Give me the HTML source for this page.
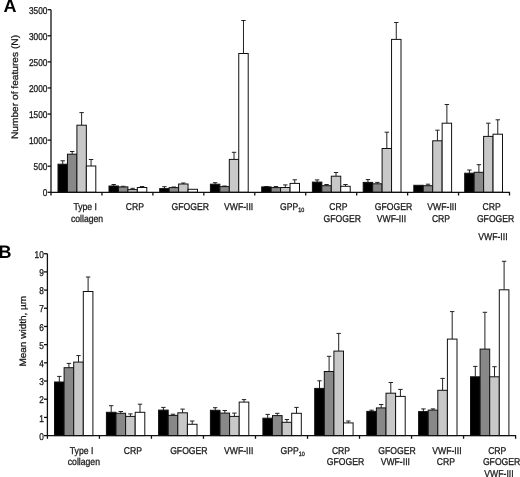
<!DOCTYPE html>
<html><head><meta charset="utf-8"><style>
html,body{margin:0;padding:0;background:#fff;}
body{width:520px;height:477px;overflow:hidden;}
svg{display:block;filter:grayscale(100%);text-rendering:geometricPrecision;}
.t{font-family:"Liberation Sans", sans-serif;font-size:9.9px;fill:#1a1a1a;stroke:#1a1a1a;stroke-width:0.3px;}
.s{font-size:6.2px;}
.tk{font-family:"Liberation Sans", sans-serif;font-size:9.9px;fill:#1a1a1a;stroke:#1a1a1a;stroke-width:0.3px;}
.ti{font-family:"Liberation Sans", sans-serif;font-size:10.2px;fill:#1a1a1a;stroke:#1a1a1a;stroke-width:0.3px;}
.p{font-family:"Liberation Sans", sans-serif;font-size:18px;font-weight:bold;fill:#000;}
.a{stroke:#111;stroke-width:1.3;fill:none;}
.b{stroke:#111;stroke-width:1;}
.e{stroke:#222;stroke-width:1;}
</style></head><body>
<svg width="520" height="477" viewBox="0 0 520 477">
<line x1="62.73" y1="164.20" x2="62.73" y2="160.80" class="e"/>
<line x1="60.52" y1="160.80" x2="64.92" y2="160.80" class="e"/>
<rect x="58.00" y="164.20" width="9.45" height="28.10" fill="#000000" class="b"/>
<line x1="72.17" y1="154.20" x2="72.17" y2="151.50" class="e"/>
<line x1="69.97" y1="151.50" x2="74.38" y2="151.50" class="e"/>
<rect x="67.45" y="154.20" width="9.45" height="38.10" fill="#888888" class="b"/>
<line x1="81.62" y1="125.20" x2="81.62" y2="112.60" class="e"/>
<line x1="79.42" y1="112.60" x2="83.83" y2="112.60" class="e"/>
<rect x="76.90" y="125.20" width="9.45" height="67.10" fill="#c8c8c8" class="b"/>
<line x1="91.07" y1="166.00" x2="91.07" y2="159.50" class="e"/>
<line x1="88.87" y1="159.50" x2="93.27" y2="159.50" class="e"/>
<rect x="86.35" y="166.00" width="9.45" height="26.30" fill="#ffffff" class="b"/>
<line x1="113.72" y1="186.00" x2="113.72" y2="184.50" class="e"/>
<line x1="111.52" y1="184.50" x2="115.92" y2="184.50" class="e"/>
<rect x="109.00" y="186.00" width="9.45" height="6.30" fill="#000000" class="b"/>
<line x1="123.17" y1="186.90" x2="123.17" y2="186.30" class="e"/>
<line x1="120.97" y1="186.30" x2="125.38" y2="186.30" class="e"/>
<rect x="118.45" y="186.90" width="9.45" height="5.40" fill="#888888" class="b"/>
<line x1="132.62" y1="189.60" x2="132.62" y2="188.30" class="e"/>
<line x1="130.43" y1="188.30" x2="134.82" y2="188.30" class="e"/>
<rect x="127.90" y="189.60" width="9.45" height="2.70" fill="#c8c8c8" class="b"/>
<line x1="142.07" y1="187.50" x2="142.07" y2="186.50" class="e"/>
<line x1="139.88" y1="186.50" x2="144.27" y2="186.50" class="e"/>
<rect x="137.35" y="187.50" width="9.45" height="4.80" fill="#ffffff" class="b"/>
<line x1="164.43" y1="188.60" x2="164.43" y2="186.70" class="e"/>
<line x1="162.23" y1="186.70" x2="166.62" y2="186.70" class="e"/>
<rect x="159.70" y="188.60" width="9.45" height="3.70" fill="#000000" class="b"/>
<line x1="173.88" y1="187.60" x2="173.88" y2="187.00" class="e"/>
<line x1="171.68" y1="187.00" x2="176.07" y2="187.00" class="e"/>
<rect x="169.15" y="187.60" width="9.45" height="4.70" fill="#888888" class="b"/>
<line x1="183.33" y1="184.00" x2="183.33" y2="183.00" class="e"/>
<line x1="181.13" y1="183.00" x2="185.53" y2="183.00" class="e"/>
<rect x="178.60" y="184.00" width="9.45" height="8.30" fill="#c8c8c8" class="b"/>
<rect x="188.05" y="189.30" width="9.45" height="3.00" fill="#ffffff" class="b"/>
<line x1="215.12" y1="184.20" x2="215.12" y2="182.70" class="e"/>
<line x1="212.93" y1="182.70" x2="217.32" y2="182.70" class="e"/>
<rect x="210.40" y="184.20" width="9.45" height="8.10" fill="#000000" class="b"/>
<line x1="224.57" y1="186.60" x2="224.57" y2="186.00" class="e"/>
<line x1="222.38" y1="186.00" x2="226.77" y2="186.00" class="e"/>
<rect x="219.85" y="186.60" width="9.45" height="5.70" fill="#888888" class="b"/>
<line x1="234.03" y1="159.40" x2="234.03" y2="152.30" class="e"/>
<line x1="231.83" y1="152.30" x2="236.22" y2="152.30" class="e"/>
<rect x="229.30" y="159.40" width="9.45" height="32.90" fill="#c8c8c8" class="b"/>
<line x1="243.47" y1="53.50" x2="243.47" y2="20.50" class="e"/>
<line x1="241.28" y1="20.50" x2="245.67" y2="20.50" class="e"/>
<rect x="238.75" y="53.50" width="9.45" height="138.80" fill="#ffffff" class="b"/>
<line x1="266.43" y1="186.90" x2="266.43" y2="186.50" class="e"/>
<line x1="264.23" y1="186.50" x2="268.62" y2="186.50" class="e"/>
<rect x="261.70" y="186.90" width="9.45" height="5.40" fill="#000000" class="b"/>
<line x1="275.88" y1="187.60" x2="275.88" y2="186.50" class="e"/>
<line x1="273.68" y1="186.50" x2="278.07" y2="186.50" class="e"/>
<rect x="271.15" y="187.60" width="9.45" height="4.70" fill="#888888" class="b"/>
<line x1="285.32" y1="187.50" x2="285.32" y2="184.90" class="e"/>
<line x1="283.12" y1="184.90" x2="287.52" y2="184.90" class="e"/>
<rect x="280.60" y="187.50" width="9.45" height="4.80" fill="#c8c8c8" class="b"/>
<line x1="294.78" y1="183.40" x2="294.78" y2="179.80" class="e"/>
<line x1="292.58" y1="179.80" x2="296.98" y2="179.80" class="e"/>
<rect x="290.05" y="183.40" width="9.45" height="8.90" fill="#ffffff" class="b"/>
<line x1="317.13" y1="182.10" x2="317.13" y2="179.90" class="e"/>
<line x1="314.93" y1="179.90" x2="319.33" y2="179.90" class="e"/>
<rect x="312.40" y="182.10" width="9.45" height="10.20" fill="#000000" class="b"/>
<line x1="326.58" y1="185.70" x2="326.58" y2="184.50" class="e"/>
<line x1="324.38" y1="184.50" x2="328.78" y2="184.50" class="e"/>
<rect x="321.85" y="185.70" width="9.45" height="6.60" fill="#888888" class="b"/>
<line x1="336.03" y1="176.20" x2="336.03" y2="172.50" class="e"/>
<line x1="333.83" y1="172.50" x2="338.23" y2="172.50" class="e"/>
<rect x="331.30" y="176.20" width="9.45" height="16.10" fill="#c8c8c8" class="b"/>
<line x1="345.48" y1="186.30" x2="345.48" y2="184.50" class="e"/>
<line x1="343.28" y1="184.50" x2="347.68" y2="184.50" class="e"/>
<rect x="340.75" y="186.30" width="9.45" height="6.00" fill="#ffffff" class="b"/>
<line x1="367.93" y1="182.40" x2="367.93" y2="179.60" class="e"/>
<line x1="365.73" y1="179.60" x2="370.12" y2="179.60" class="e"/>
<rect x="363.20" y="182.40" width="9.45" height="9.90" fill="#000000" class="b"/>
<line x1="377.38" y1="183.80" x2="377.38" y2="182.40" class="e"/>
<line x1="375.18" y1="182.40" x2="379.57" y2="182.40" class="e"/>
<rect x="372.65" y="183.80" width="9.45" height="8.50" fill="#888888" class="b"/>
<line x1="386.82" y1="148.50" x2="386.82" y2="132.20" class="e"/>
<line x1="384.62" y1="132.20" x2="389.02" y2="132.20" class="e"/>
<rect x="382.10" y="148.50" width="9.45" height="43.80" fill="#c8c8c8" class="b"/>
<line x1="396.28" y1="39.40" x2="396.28" y2="22.50" class="e"/>
<line x1="394.08" y1="22.50" x2="398.48" y2="22.50" class="e"/>
<rect x="391.55" y="39.40" width="9.45" height="152.90" fill="#ffffff" class="b"/>
<rect x="413.80" y="185.30" width="9.45" height="7.00" fill="#000000" class="b"/>
<line x1="427.98" y1="185.70" x2="427.98" y2="184.20" class="e"/>
<line x1="425.78" y1="184.20" x2="430.18" y2="184.20" class="e"/>
<rect x="423.25" y="185.70" width="9.45" height="6.60" fill="#888888" class="b"/>
<line x1="437.43" y1="140.80" x2="437.43" y2="130.20" class="e"/>
<line x1="435.23" y1="130.20" x2="439.62" y2="130.20" class="e"/>
<rect x="432.70" y="140.80" width="9.45" height="51.50" fill="#c8c8c8" class="b"/>
<line x1="446.88" y1="123.20" x2="446.88" y2="104.50" class="e"/>
<line x1="444.68" y1="104.50" x2="449.08" y2="104.50" class="e"/>
<rect x="442.15" y="123.20" width="9.45" height="69.10" fill="#ffffff" class="b"/>
<line x1="469.43" y1="173.20" x2="469.43" y2="170.00" class="e"/>
<line x1="467.23" y1="170.00" x2="471.62" y2="170.00" class="e"/>
<rect x="464.70" y="173.20" width="9.45" height="19.10" fill="#000000" class="b"/>
<line x1="478.88" y1="172.30" x2="478.88" y2="164.70" class="e"/>
<line x1="476.68" y1="164.70" x2="481.07" y2="164.70" class="e"/>
<rect x="474.15" y="172.30" width="9.45" height="20.00" fill="#888888" class="b"/>
<line x1="488.32" y1="136.40" x2="488.32" y2="123.20" class="e"/>
<line x1="486.12" y1="123.20" x2="490.52" y2="123.20" class="e"/>
<rect x="483.60" y="136.40" width="9.45" height="55.90" fill="#c8c8c8" class="b"/>
<line x1="497.78" y1="134.20" x2="497.78" y2="119.80" class="e"/>
<line x1="495.58" y1="119.80" x2="499.98" y2="119.80" class="e"/>
<rect x="493.05" y="134.20" width="9.45" height="58.10" fill="#ffffff" class="b"/>
<line x1="51.0" y1="9.70" x2="51.0" y2="195.50" class="a"/>
<line x1="50.5" y1="192.3" x2="510.0" y2="192.3" class="a"/>
<line x1="101.94" y1="192.3" x2="101.94" y2="195.50" class="a"/>
<line x1="152.89" y1="192.3" x2="152.89" y2="195.50" class="a"/>
<line x1="203.83" y1="192.3" x2="203.83" y2="195.50" class="a"/>
<line x1="254.78" y1="192.3" x2="254.78" y2="195.50" class="a"/>
<line x1="305.72" y1="192.3" x2="305.72" y2="195.50" class="a"/>
<line x1="356.67" y1="192.3" x2="356.67" y2="195.50" class="a"/>
<line x1="407.61" y1="192.3" x2="407.61" y2="195.50" class="a"/>
<line x1="458.56" y1="192.3" x2="458.56" y2="195.50" class="a"/>
<line x1="509.50" y1="192.3" x2="509.50" y2="195.50" class="a"/>
<line x1="47.60" y1="192.30" x2="51.0" y2="192.30" class="a"/>
<text transform="translate(47.40,196.40) scale(0.84,1)" class="tk" text-anchor="end">0</text>
<line x1="47.60" y1="166.21" x2="51.0" y2="166.21" class="a"/>
<text transform="translate(47.40,170.31) scale(0.84,1)" class="tk" text-anchor="end">500</text>
<line x1="47.60" y1="140.13" x2="51.0" y2="140.13" class="a"/>
<text transform="translate(47.40,144.23) scale(0.84,1)" class="tk" text-anchor="end">1000</text>
<line x1="47.60" y1="114.04" x2="51.0" y2="114.04" class="a"/>
<text transform="translate(47.40,118.14) scale(0.84,1)" class="tk" text-anchor="end">1500</text>
<line x1="47.60" y1="87.96" x2="51.0" y2="87.96" class="a"/>
<text transform="translate(47.40,92.06) scale(0.84,1)" class="tk" text-anchor="end">2000</text>
<line x1="47.60" y1="61.87" x2="51.0" y2="61.87" class="a"/>
<text transform="translate(47.40,65.97) scale(0.84,1)" class="tk" text-anchor="end">2500</text>
<line x1="47.60" y1="35.79" x2="51.0" y2="35.79" class="a"/>
<text transform="translate(47.40,39.89) scale(0.84,1)" class="tk" text-anchor="end">3000</text>
<line x1="47.60" y1="9.70" x2="51.0" y2="9.70" class="a"/>
<text transform="translate(47.40,13.80) scale(0.84,1)" class="tk" text-anchor="end">3500</text>
<line x1="59.30" y1="382.00" x2="59.30" y2="376.40" class="e"/>
<line x1="57.10" y1="376.40" x2="61.50" y2="376.40" class="e"/>
<rect x="54.50" y="382.00" width="9.60" height="53.60" fill="#000000" class="b"/>
<line x1="68.90" y1="367.70" x2="68.90" y2="363.40" class="e"/>
<line x1="66.70" y1="363.40" x2="71.10" y2="363.40" class="e"/>
<rect x="64.10" y="367.70" width="9.60" height="67.90" fill="#888888" class="b"/>
<line x1="78.50" y1="362.10" x2="78.50" y2="355.60" class="e"/>
<line x1="76.30" y1="355.60" x2="80.70" y2="355.60" class="e"/>
<rect x="73.70" y="362.10" width="9.60" height="73.50" fill="#c8c8c8" class="b"/>
<line x1="88.10" y1="291.50" x2="88.10" y2="277.00" class="e"/>
<line x1="85.90" y1="277.00" x2="90.30" y2="277.00" class="e"/>
<rect x="83.30" y="291.50" width="9.60" height="144.10" fill="#ffffff" class="b"/>
<line x1="111.20" y1="412.30" x2="111.20" y2="405.70" class="e"/>
<line x1="109.00" y1="405.70" x2="113.40" y2="405.70" class="e"/>
<rect x="106.40" y="412.30" width="9.60" height="23.30" fill="#000000" class="b"/>
<line x1="120.80" y1="413.30" x2="120.80" y2="411.50" class="e"/>
<line x1="118.60" y1="411.50" x2="123.00" y2="411.50" class="e"/>
<rect x="116.00" y="413.30" width="9.60" height="22.30" fill="#888888" class="b"/>
<line x1="130.40" y1="416.40" x2="130.40" y2="413.90" class="e"/>
<line x1="128.20" y1="413.90" x2="132.60" y2="413.90" class="e"/>
<rect x="125.60" y="416.40" width="9.60" height="19.20" fill="#c8c8c8" class="b"/>
<line x1="140.00" y1="412.30" x2="140.00" y2="404.20" class="e"/>
<line x1="137.80" y1="404.20" x2="142.20" y2="404.20" class="e"/>
<rect x="135.20" y="412.30" width="9.60" height="23.30" fill="#ffffff" class="b"/>
<line x1="163.40" y1="410.10" x2="163.40" y2="407.40" class="e"/>
<line x1="161.20" y1="407.40" x2="165.60" y2="407.40" class="e"/>
<rect x="158.60" y="410.10" width="9.60" height="25.50" fill="#000000" class="b"/>
<line x1="173.00" y1="415.40" x2="173.00" y2="414.20" class="e"/>
<line x1="170.80" y1="414.20" x2="175.20" y2="414.20" class="e"/>
<rect x="168.20" y="415.40" width="9.60" height="20.20" fill="#888888" class="b"/>
<line x1="182.60" y1="412.80" x2="182.60" y2="409.10" class="e"/>
<line x1="180.40" y1="409.10" x2="184.80" y2="409.10" class="e"/>
<rect x="177.80" y="412.80" width="9.60" height="22.80" fill="#c8c8c8" class="b"/>
<line x1="192.20" y1="424.30" x2="192.20" y2="421.00" class="e"/>
<line x1="190.00" y1="421.00" x2="194.40" y2="421.00" class="e"/>
<rect x="187.40" y="424.30" width="9.60" height="11.30" fill="#ffffff" class="b"/>
<line x1="215.20" y1="410.30" x2="215.20" y2="407.70" class="e"/>
<line x1="213.00" y1="407.70" x2="217.40" y2="407.70" class="e"/>
<rect x="210.40" y="410.30" width="9.60" height="25.30" fill="#000000" class="b"/>
<line x1="224.80" y1="413.10" x2="224.80" y2="410.50" class="e"/>
<line x1="222.60" y1="410.50" x2="227.00" y2="410.50" class="e"/>
<rect x="220.00" y="413.10" width="9.60" height="22.50" fill="#888888" class="b"/>
<line x1="234.40" y1="416.40" x2="234.40" y2="413.10" class="e"/>
<line x1="232.20" y1="413.10" x2="236.60" y2="413.10" class="e"/>
<rect x="229.60" y="416.40" width="9.60" height="19.20" fill="#c8c8c8" class="b"/>
<line x1="244.00" y1="402.10" x2="244.00" y2="399.60" class="e"/>
<line x1="241.80" y1="399.60" x2="246.20" y2="399.60" class="e"/>
<rect x="239.20" y="402.10" width="9.60" height="33.50" fill="#ffffff" class="b"/>
<line x1="267.70" y1="418.20" x2="267.70" y2="414.40" class="e"/>
<line x1="265.50" y1="414.40" x2="269.90" y2="414.40" class="e"/>
<rect x="262.90" y="418.20" width="9.60" height="17.40" fill="#000000" class="b"/>
<line x1="277.30" y1="415.60" x2="277.30" y2="413.30" class="e"/>
<line x1="275.10" y1="413.30" x2="279.50" y2="413.30" class="e"/>
<rect x="272.50" y="415.60" width="9.60" height="20.00" fill="#888888" class="b"/>
<line x1="286.90" y1="422.30" x2="286.90" y2="419.50" class="e"/>
<line x1="284.70" y1="419.50" x2="289.10" y2="419.50" class="e"/>
<rect x="282.10" y="422.30" width="9.60" height="13.30" fill="#c8c8c8" class="b"/>
<line x1="296.50" y1="413.30" x2="296.50" y2="407.40" class="e"/>
<line x1="294.30" y1="407.40" x2="298.70" y2="407.40" class="e"/>
<rect x="291.70" y="413.30" width="9.60" height="22.30" fill="#ffffff" class="b"/>
<line x1="319.50" y1="388.40" x2="319.50" y2="380.80" class="e"/>
<line x1="317.30" y1="380.80" x2="321.70" y2="380.80" class="e"/>
<rect x="314.70" y="388.40" width="9.60" height="47.20" fill="#000000" class="b"/>
<line x1="329.10" y1="371.50" x2="329.10" y2="356.30" class="e"/>
<line x1="326.90" y1="356.30" x2="331.30" y2="356.30" class="e"/>
<rect x="324.30" y="371.50" width="9.60" height="64.10" fill="#888888" class="b"/>
<line x1="338.70" y1="351.10" x2="338.70" y2="333.40" class="e"/>
<line x1="336.50" y1="333.40" x2="340.90" y2="333.40" class="e"/>
<rect x="333.90" y="351.10" width="9.60" height="84.50" fill="#c8c8c8" class="b"/>
<line x1="348.30" y1="422.90" x2="348.30" y2="421.00" class="e"/>
<line x1="346.10" y1="421.00" x2="350.50" y2="421.00" class="e"/>
<rect x="343.50" y="422.90" width="9.60" height="12.70" fill="#ffffff" class="b"/>
<line x1="371.60" y1="411.40" x2="371.60" y2="410.20" class="e"/>
<line x1="369.40" y1="410.20" x2="373.80" y2="410.20" class="e"/>
<rect x="366.80" y="411.40" width="9.60" height="24.20" fill="#000000" class="b"/>
<line x1="381.20" y1="407.90" x2="381.20" y2="404.50" class="e"/>
<line x1="379.00" y1="404.50" x2="383.40" y2="404.50" class="e"/>
<rect x="376.40" y="407.90" width="9.60" height="27.70" fill="#888888" class="b"/>
<line x1="390.80" y1="393.20" x2="390.80" y2="382.50" class="e"/>
<line x1="388.60" y1="382.50" x2="393.00" y2="382.50" class="e"/>
<rect x="386.00" y="393.20" width="9.60" height="42.40" fill="#c8c8c8" class="b"/>
<line x1="400.40" y1="396.40" x2="400.40" y2="389.40" class="e"/>
<line x1="398.20" y1="389.40" x2="402.60" y2="389.40" class="e"/>
<rect x="395.60" y="396.40" width="9.60" height="39.20" fill="#ffffff" class="b"/>
<line x1="423.40" y1="411.60" x2="423.40" y2="408.90" class="e"/>
<line x1="421.20" y1="408.90" x2="425.60" y2="408.90" class="e"/>
<rect x="418.60" y="411.60" width="9.60" height="24.00" fill="#000000" class="b"/>
<line x1="433.00" y1="410.10" x2="433.00" y2="408.90" class="e"/>
<line x1="430.80" y1="408.90" x2="435.20" y2="408.90" class="e"/>
<rect x="428.20" y="410.10" width="9.60" height="25.50" fill="#888888" class="b"/>
<line x1="442.60" y1="390.30" x2="442.60" y2="378.40" class="e"/>
<line x1="440.40" y1="378.40" x2="444.80" y2="378.40" class="e"/>
<rect x="437.80" y="390.30" width="9.60" height="45.30" fill="#c8c8c8" class="b"/>
<line x1="452.20" y1="339.10" x2="452.20" y2="311.60" class="e"/>
<line x1="450.00" y1="311.60" x2="454.40" y2="311.60" class="e"/>
<rect x="447.40" y="339.10" width="9.60" height="96.50" fill="#ffffff" class="b"/>
<line x1="475.30" y1="376.80" x2="475.30" y2="366.40" class="e"/>
<line x1="473.10" y1="366.40" x2="477.50" y2="366.40" class="e"/>
<rect x="470.50" y="376.80" width="9.60" height="58.80" fill="#000000" class="b"/>
<line x1="484.90" y1="349.10" x2="484.90" y2="312.30" class="e"/>
<line x1="482.70" y1="312.30" x2="487.10" y2="312.30" class="e"/>
<rect x="480.10" y="349.10" width="9.60" height="86.50" fill="#888888" class="b"/>
<line x1="494.50" y1="376.80" x2="494.50" y2="366.70" class="e"/>
<line x1="492.30" y1="366.70" x2="496.70" y2="366.70" class="e"/>
<rect x="489.70" y="376.80" width="9.60" height="58.80" fill="#c8c8c8" class="b"/>
<line x1="504.10" y1="289.80" x2="504.10" y2="261.30" class="e"/>
<line x1="501.90" y1="261.30" x2="506.30" y2="261.30" class="e"/>
<rect x="499.30" y="289.80" width="9.60" height="145.80" fill="#ffffff" class="b"/>
<line x1="47.4" y1="253.70" x2="47.4" y2="438.80" class="a"/>
<line x1="46.9" y1="435.6" x2="516.1" y2="435.6" class="a"/>
<line x1="99.42" y1="435.6" x2="99.42" y2="438.80" class="a"/>
<line x1="151.44" y1="435.6" x2="151.44" y2="438.80" class="a"/>
<line x1="203.47" y1="435.6" x2="203.47" y2="438.80" class="a"/>
<line x1="255.49" y1="435.6" x2="255.49" y2="438.80" class="a"/>
<line x1="307.51" y1="435.6" x2="307.51" y2="438.80" class="a"/>
<line x1="359.53" y1="435.6" x2="359.53" y2="438.80" class="a"/>
<line x1="411.56" y1="435.6" x2="411.56" y2="438.80" class="a"/>
<line x1="463.58" y1="435.6" x2="463.58" y2="438.80" class="a"/>
<line x1="515.60" y1="435.6" x2="515.60" y2="438.80" class="a"/>
<line x1="44.00" y1="435.60" x2="47.4" y2="435.60" class="a"/>
<text transform="translate(43.80,439.70) scale(0.84,1)" class="tk" text-anchor="end">0</text>
<line x1="44.00" y1="417.41" x2="47.4" y2="417.41" class="a"/>
<text transform="translate(43.80,421.51) scale(0.84,1)" class="tk" text-anchor="end">1</text>
<line x1="44.00" y1="399.22" x2="47.4" y2="399.22" class="a"/>
<text transform="translate(43.80,403.32) scale(0.84,1)" class="tk" text-anchor="end">2</text>
<line x1="44.00" y1="381.03" x2="47.4" y2="381.03" class="a"/>
<text transform="translate(43.80,385.13) scale(0.84,1)" class="tk" text-anchor="end">3</text>
<line x1="44.00" y1="362.84" x2="47.4" y2="362.84" class="a"/>
<text transform="translate(43.80,366.94) scale(0.84,1)" class="tk" text-anchor="end">4</text>
<line x1="44.00" y1="344.65" x2="47.4" y2="344.65" class="a"/>
<text transform="translate(43.80,348.75) scale(0.84,1)" class="tk" text-anchor="end">5</text>
<line x1="44.00" y1="326.46" x2="47.4" y2="326.46" class="a"/>
<text transform="translate(43.80,330.56) scale(0.84,1)" class="tk" text-anchor="end">6</text>
<line x1="44.00" y1="308.27" x2="47.4" y2="308.27" class="a"/>
<text transform="translate(43.80,312.37) scale(0.84,1)" class="tk" text-anchor="end">7</text>
<line x1="44.00" y1="290.08" x2="47.4" y2="290.08" class="a"/>
<text transform="translate(43.80,294.18) scale(0.84,1)" class="tk" text-anchor="end">8</text>
<line x1="44.00" y1="271.89" x2="47.4" y2="271.89" class="a"/>
<text transform="translate(43.80,275.99) scale(0.84,1)" class="tk" text-anchor="end">9</text>
<line x1="44.00" y1="253.70" x2="47.4" y2="253.70" class="a"/>
<text transform="translate(43.80,257.80) scale(0.84,1)" class="tk" text-anchor="end">10</text>
<text transform="translate(85.15,210.00) scale(0.875,1)" class="t" text-anchor="middle">Type I</text>
<text transform="translate(87.05,222.10) scale(0.875,1)" class="t" text-anchor="middle">collagen</text>
<text transform="translate(134.85,210.00) scale(0.875,1)" class="t" text-anchor="middle">CRP</text>
<text transform="translate(190.20,210.00) scale(0.875,1)" class="t" text-anchor="middle">GFOGER</text>
<text transform="translate(238.60,210.00) scale(0.875,1)" class="t" text-anchor="middle">VWF-III</text>
<text transform="translate(338.45,210.00) scale(0.875,1)" class="t" text-anchor="middle">CRP</text>
<text transform="translate(342.30,222.10) scale(0.875,1)" class="t" text-anchor="middle">GFOGER</text>
<text transform="translate(393.50,210.00) scale(0.875,1)" class="t" text-anchor="middle">GFOGER</text>
<text transform="translate(391.40,222.10) scale(0.875,1)" class="t" text-anchor="middle">VWF-III</text>
<text transform="translate(442.00,210.00) scale(0.875,1)" class="t" text-anchor="middle">VWF-III</text>
<text transform="translate(441.00,222.10) scale(0.875,1)" class="t" text-anchor="middle">CRP</text>
<text transform="translate(491.70,210.00) scale(0.875,1)" class="t" text-anchor="middle">CRP</text>
<text transform="translate(495.60,222.10) scale(0.875,1)" class="t" text-anchor="middle">GFOGER</text>
<text transform="translate(492.90,240.00) scale(0.875,1)" class="t" text-anchor="middle">VWF-III</text>
<text transform="translate(81.55,453.80) scale(0.875,1)" class="t" text-anchor="middle">Type I</text>
<text transform="translate(83.85,465.20) scale(0.875,1)" class="t" text-anchor="middle">collagen</text>
<text transform="translate(132.85,453.80) scale(0.875,1)" class="t" text-anchor="middle">CRP</text>
<text transform="translate(188.85,453.80) scale(0.875,1)" class="t" text-anchor="middle">GFOGER</text>
<text transform="translate(238.65,453.80) scale(0.875,1)" class="t" text-anchor="middle">VWF-III</text>
<text transform="translate(341.00,453.80) scale(0.875,1)" class="t" text-anchor="middle">CRP</text>
<text transform="translate(345.55,465.20) scale(0.875,1)" class="t" text-anchor="middle">GFOGER</text>
<text transform="translate(396.95,453.80) scale(0.875,1)" class="t" text-anchor="middle">GFOGER</text>
<text transform="translate(395.30,465.20) scale(0.875,1)" class="t" text-anchor="middle">VWF-III</text>
<text transform="translate(446.90,453.80) scale(0.875,1)" class="t" text-anchor="middle">VWF-III</text>
<text transform="translate(445.95,465.20) scale(0.875,1)" class="t" text-anchor="middle">CRP</text>
<text transform="translate(497.25,453.80) scale(0.875,1)" class="t" text-anchor="middle">CRP</text>
<text transform="translate(501.60,465.20) scale(0.875,1)" class="t" text-anchor="middle">GFOGER</text>
<text transform="translate(498.95,476.80) scale(0.875,1)" class="t" text-anchor="middle">VWF-III</text>
<text transform="translate(280.0,210.00) scale(0.875,1)" class="t">GPP<tspan class="s" dy="2.2">10</tspan></text>
<text transform="translate(280.6,453.80) scale(0.875,1)" class="t">GPP<tspan class="s" dy="2.2">10</tspan></text>
<text class="ti" text-anchor="middle" transform="translate(17.6,87) scale(0.93,1) rotate(-90)">Number of features (N)</text>
<text class="ti" style="font-size:10px" text-anchor="middle" transform="translate(26.1,331.2) scale(0.93,1) rotate(-90)">Mean width, µm</text>
<text x="3.4" y="12.4" class="p">A</text>
<text x="-1.6" y="257.9" class="p">B</text>
</svg>
</body></html>
